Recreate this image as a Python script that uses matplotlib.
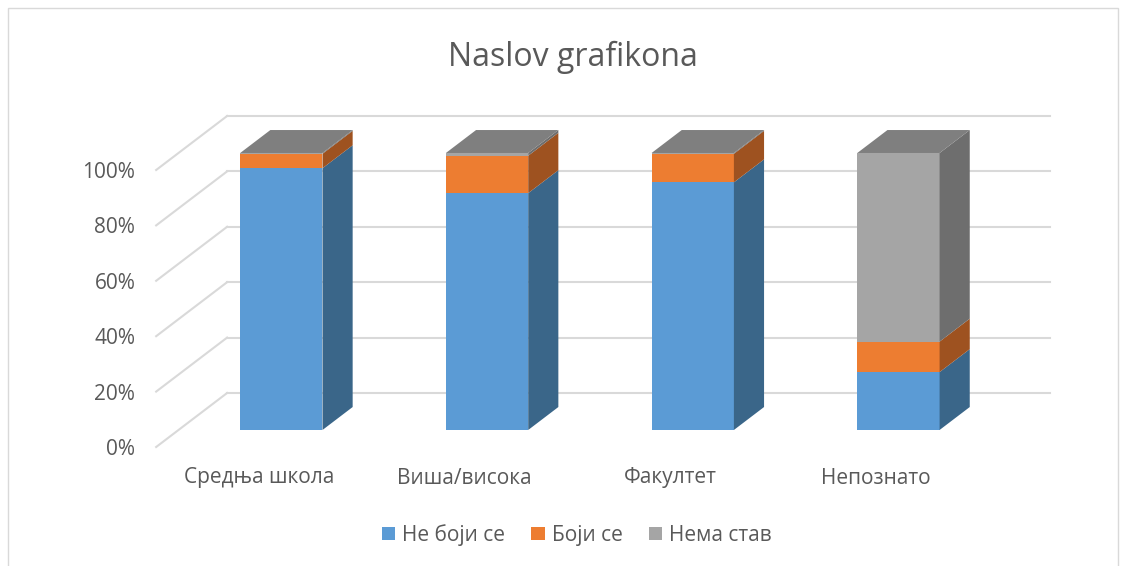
import matplotlib.pyplot as plt
from matplotlib.patches import Polygon, Rectangle, Patch

plt.rcParams['font.family'] = ['Open Sans', 'DejaVu Sans']

# stacked shares per education level (percent)
categories = ['Средња школа', 'Виша/висока', 'Факултет', 'Непознато']
ne_boji_se = [94.5, 85.5, 89.4, 20.9]
boji_se = [5.2, 13.5, 10.3, 11.0]
nema_stav = [0.3, 1.0, 0.3, 68.1]
series_names = ['Не боји се', 'Боји се', 'Нема став']
yticks = [0, 20, 40, 60, 80, 100]

front_cols = ['#5B9BD5', '#ED7D31', '#A5A5A5']
side_cols = ['#3A6689', '#9E5220', '#6E6E6E']
top_cols = ['#4A84BB', '#C96A28', '#7F7F7F']
text_col = '#595959'
grid_col = '#D9D9D9'

W, H = 1128, 566
fig = plt.figure(figsize=(W / 100, H / 100), dpi=100)

# pixel layout of the front plane
x0_px, cat_px = 259, 205.7
y0_px, pct_px = 447, 2.77
xlim = (-0.5, 3.9)
ylim = (-5, 125)
left = (x0_px + xlim[0] * cat_px) / W
right = (x0_px + xlim[1] * cat_px) / W
top = (y0_px - ylim[1] * pct_px)
bot = (y0_px - ylim[0] * pct_px)
ax = fig.add_axes([left, 1 - bot / H, right - left, (bot - top) / H])
ax.set_xlim(xlim)
ax.set_ylim(ylim)
for s in ax.spines.values():
    s.set_visible(False)
ax.set_xticks([])

# depth of the 3d box in data units
DX, DY = 0.345, 19.5
wall_x = -0.5
wall_end = (1050 - x0_px) / cat_px

for v in yticks:
    ax.plot([wall_x, wall_x + DX], [v, v + DY], color=grid_col, lw=1.5,
            clip_on=False, zorder=1)
    ax.plot([wall_x + DX, wall_end], [v + DY, v + DY], color=grid_col, lw=1.5,
            clip_on=False, zorder=1)

ax.set_yticks(yticks)
ax.set_yticklabels([f'{v}%' for v in yticks])
ax.tick_params(axis='y', length=0, pad=15, labelsize=15, labelcolor=text_col)

hw = 0.2
d0, d1 = 0.315, 0.74
ddx, ddy = (d1 - d0) * DX, (d1 - d0) * DY

data = [ne_boji_se, boji_se, nema_stav]
for i, cat in enumerate(categories):
    base = 0
    xl = i - hw + d0 * DX
    xr = i + hw + d0 * DX
    for k in range(3):
        val = data[k][i]
        yb = base + d0 * DY
        yt = base + val + d0 * DY
        ax.add_patch(Rectangle((xl, yb), xr - xl, yt - yb, facecolor=front_cols[k],
                               edgecolor='none', zorder=3, clip_on=False))
        ax.add_patch(Polygon([(xr, yb), (xr + ddx, yb + ddy), (xr + ddx, yt + ddy), (xr, yt)],
                             closed=True, facecolor=side_cols[k], edgecolor='none',
                             zorder=3, clip_on=False))
        base += val
    yt = base + d0 * DY
    ax.add_patch(Polygon([(xl, yt), (xl + ddx, yt + ddy), (xr + ddx, yt + ddy), (xr, yt)],
                         closed=True, facecolor=top_cols[2], edgecolor='none',
                         zorder=3, clip_on=False))
    ax.text(i, (y0_px - 478) / pct_px, cat, ha='center', va='center',
            fontsize=15, color=text_col)

fig.text(573 / W, 1 - 66 / H, 'Naslov grafikona', ha='center', va='baseline',
         fontsize=23, color=text_col)

handles = [Patch(facecolor=c, edgecolor='none') for c in front_cols]
fig.legend(handles, series_names, loc='center', ncol=3,
           bbox_to_anchor=(577 / W, 1 - 535 / H), frameon=False, fontsize=15,
           handlelength=0.63, handleheight=0.63, handletextpad=0.35,
           columnspacing=1.25, labelcolor=text_col)

# chart area border
fig.add_artist(Rectangle((8 / W, -0.1), (1118 - 8) / W, 1.1 - 8 / H,
                         transform=fig.transFigure, facecolor='none',
                         edgecolor=grid_col, lw=1))

fig.savefig('out.png', dpi=100)
